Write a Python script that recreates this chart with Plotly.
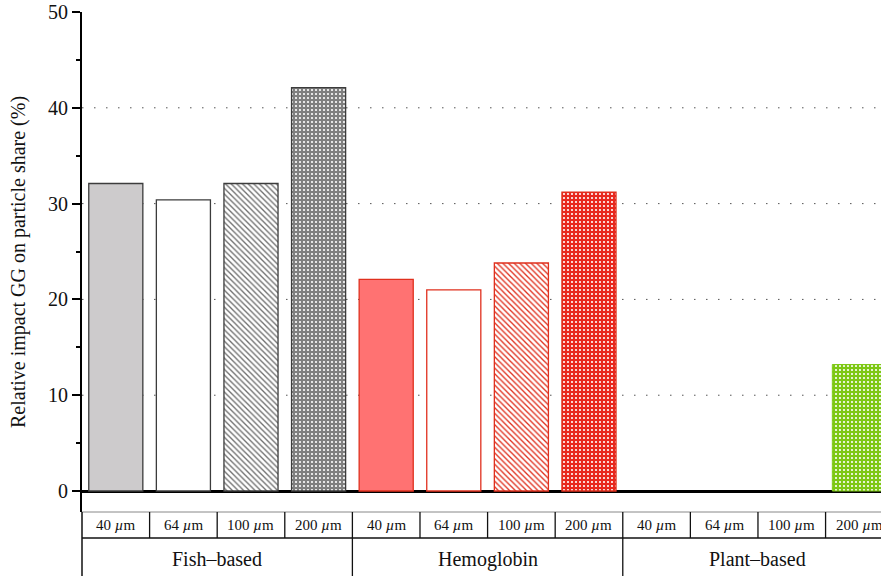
import plotly.graph_objects as go

# ---- data ----
groups = ["Fish–based", "Hemoglobin", "Plant–based"]
sizes = ["40 <i>µ</i>m", "64 <i>µ</i>m", "100 <i>µ</i>m", "200 <i>µ</i>m"]
fish_values = [32.1, 30.4, 32.1, 42.1]
hemoglobin_values = [22.1, 21.0, 23.8, 31.2]
plant_values = [0, 0, 0, 13.2]
y_ticks = [0, 10, 20, 30, 40, 50]
grid_values = [10, 20, 30, 40]

values = fish_values + hemoglobin_values + plant_values
n = len(values)
xs = list(range(n))

# ---- styles ----
gray_line = "#3c3c3c"
red_line = "#e0301e"
green = "#7dc814"
fill_colors = ["#cdcbcc", "#ffffff", "#ffffff", "#7f7f7f",
               "#ff7272", "#ffffff", "#ffffff", "#e8281e",
               "#ffffff", "#ffffff", "#ffffff", green]
line_colors = [gray_line] * 4 + [red_line] * 4 + [green] * 4
line_widths = [1.3] * 8 + [0, 0, 0, 1]
shapes_p = ["", "", "\\", ".", "", "", "\\", ".", "", "", "", "."]
fg = ["#808080", "#808080", "#6e6e6e", "#ffffff",
      red_line, red_line, red_line, "#ffffff",
      "#ffffff", "#ffffff", "#ffffff", "#ffffff"]

fig = go.Figure()
for i in range(n):
    marker = dict(color=fill_colors[i],
                  line=dict(color=line_colors[i], width=line_widths[i]))
    if shapes_p[i] == ".":
        marker["pattern"] = dict(shape=".", fgcolor=fg[i], bgcolor=fill_colors[i],
                                 fillmode="replace", size=4, solidity=0.22)
    elif shapes_p[i]:
        marker["pattern"] = dict(shape=shapes_p[i], fgcolor=fg[i], bgcolor=fill_colors[i],
                                 fillmode="replace", size=4, solidity=0.33)
    fig.add_trace(go.Bar(x=[xs[i]], y=[values[i]], width=0.8, marker=marker,
                         showlegend=False, hoverinfo="y"))

serif = "Liberation Serif"
shapes = []
# dotted grid
for g in grid_values:
    shapes.append(dict(type="line", xref="paper", yref="y", x0=0, x1=1, y0=g, y1=g,
                       line=dict(color="#555555", width=1, dash="1.5px,10.5px"), layer="below"))

row1_bot = -0.052
row2_bot = -0.14
# table horizontal lines
shapes.append(dict(type="line", xref="paper", yref="paper", x0=0, x1=1.02, y0=0, y1=0,
                   line=dict(color="#888888", width=1)))
shapes.append(dict(type="line", xref="paper", yref="paper", x0=0, x1=1.02, y0=row1_bot, y1=row1_bot,
                   line=dict(color="#111111", width=1.5)))
# left border
shapes.append(dict(type="line", xref="paper", yref="paper", x0=0, x1=0, y0=0, y1=row2_bot,
                   line=dict(color="#111111", width=1.5)))
# row-1 dividers
for i in range(1, n + 1):
    shapes.append(dict(type="line", xref="x", yref="paper", x0=i - 0.5, x1=i - 0.5, y0=0, y1=row1_bot,
                       line=dict(color="#111111", width=1.3)))
# group dividers
for k in range(1, len(groups) + 1):
    xb = k * len(sizes) - 0.5
    shapes.append(dict(type="line", xref="x", yref="paper", x0=xb, x1=xb, y0=row1_bot, y1=row2_bot,
                       line=dict(color="#111111", width=1.3)))

annotations = []
for i in range(n):
    annotations.append(dict(x=i, y=row1_bot / 2, xref="x", yref="paper", text=sizes[i % len(sizes)],
                            showarrow=False, font=dict(family=serif, size=15, color="#111111"),
                            xanchor="center", yanchor="middle"))
for k, gname in enumerate(groups):
    annotations.append(dict(x=k * len(sizes) + 1.5, y=-0.094, xref="x", yref="paper", text=gname,
                            showarrow=False, font=dict(family=serif, size=20, color="#111111"),
                            xanchor="center", yanchor="middle"))
annotations.append(dict(x=0, xshift=-64, y=0.5, xref="paper", yref="paper",
                        text="Relative impact GG on particle share (%)", textangle=-90,
                        showarrow=False, font=dict(family=serif, size=20, color="#111111"),
                        xanchor="center", yanchor="middle"))

fig.update_layout(
    width=881, height=576,
    margin=dict(l=82, r=0, t=12, b=64, autoexpand=False),
    plot_bgcolor="white", paper_bgcolor="white",
    barmode="overlay",
    shapes=shapes, annotations=annotations,
    font=dict(family=serif, color="#111111"),
)
fig.update_xaxes(range=[-0.5, 11.32], showticklabels=False, showgrid=False,
                 zeroline=False, showline=False, ticks="", automargin=False)
fig.update_yaxes(range=[-2.19, 50], tickvals=y_ticks, showgrid=False, automargin=False,
                 showline=True, linecolor="black", linewidth=2,
                 ticks="outside", ticklen=8, tickwidth=2, tickcolor="black",
                 minor=dict(ticks="outside", ticklen=4, tickwidth=1.5, tickcolor="black",
                            dtick=5, tick0=0, showgrid=False),
                 zeroline=True, zerolinecolor="black", zerolinewidth=2.5,
                 tickfont=dict(family=serif, size=20, color="#111111"))

fig.write_html("out.html", config={"displayModeBar": False},
               post_script="document.body.style.margin='0';document.body.style.overflow='hidden';")
